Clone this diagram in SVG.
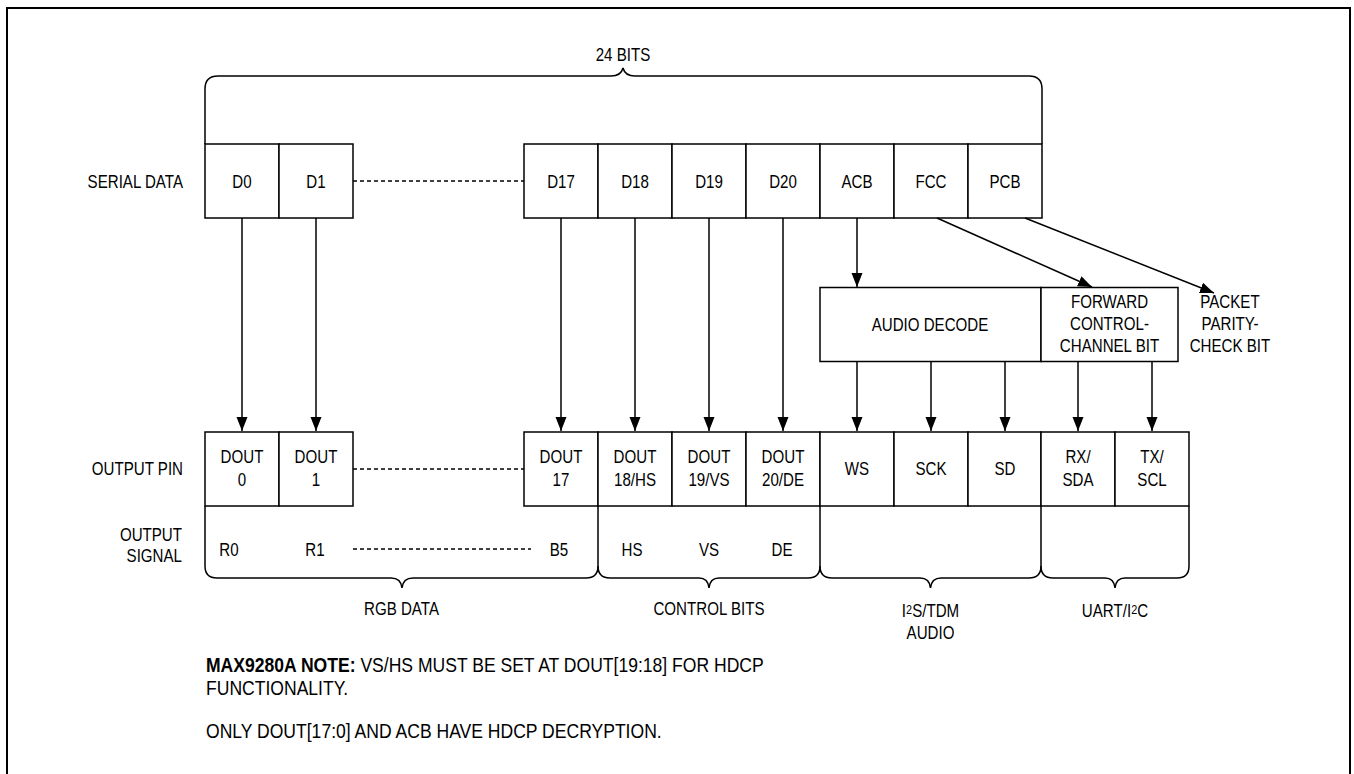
<svg xmlns="http://www.w3.org/2000/svg" width="1354" height="774" viewBox="0 0 1354 774">
<style>
.bx{fill:#fff;stroke:#000;stroke-width:1.5}
.ln{fill:none;stroke:#000;stroke-width:1.5}
.ds{fill:none;stroke:#000;stroke-width:1.5;stroke-dasharray:4 3}
.ar{fill:none;stroke:#000;stroke-width:1.5;marker-end:url(#ah)}
.t{font-family:'Liberation Sans',Arial,sans-serif;font-size:18px;fill:#000;text-anchor:middle}
.r{text-anchor:end}
.l{text-anchor:start}
.n{font-size:19.5px}
.b{font-weight:bold}
</style>
<defs>
<marker id="ah" markerUnits="userSpaceOnUse" markerWidth="15" markerHeight="12" refX="14" refY="5.5" orient="auto">
<path d="M0,0 L14,5.5 L0,11 z" fill="#000"/>
</marker>
</defs>
<rect x="0" y="0" width="1354" height="774" fill="#fff"/>
<path d="M7,774 V8 H1350 V774" fill="none" stroke="#000" stroke-width="2"/>

<g id="brace-top">
<path class="ln" d="M205,144 V89 Q205,76 218,76 H611 Q621,76 623,68 Q625,76 635,76 H1029 Q1042,76 1042,89 V144"/>
<text class="t" transform="translate(623 61) scale(.84 1)">24 BITS</text>
</g>

<g id="row-labels">
<text class="t r" transform="translate(183 188) scale(.84 1)">SERIAL DATA</text>
<text class="t r" transform="translate(183 475) scale(.84 1)">OUTPUT PIN</text>
<text class="t r" transform="translate(182 541) scale(.84 1)">OUTPUT</text>
<text class="t r" transform="translate(182 562) scale(.84 1)">SIGNAL</text>
</g>

<g id="serial-D0"><rect class="bx" x="205" y="144" width="74" height="74"/><text class="t" transform="translate(242 188) scale(.84 1)">D0</text></g>
<g id="serial-D1"><rect class="bx" x="279" y="144" width="74" height="74"/><text class="t" transform="translate(316 188) scale(.84 1)">D1</text></g>
<g id="serial-D17"><rect class="bx" x="524" y="144" width="74" height="74"/><text class="t" transform="translate(561 188) scale(.84 1)">D17</text></g>
<g id="serial-D18"><rect class="bx" x="598" y="144" width="74" height="74"/><text class="t" transform="translate(635 188) scale(.84 1)">D18</text></g>
<g id="serial-D19"><rect class="bx" x="672" y="144" width="74" height="74"/><text class="t" transform="translate(709 188) scale(.84 1)">D19</text></g>
<g id="serial-D20"><rect class="bx" x="746" y="144" width="74" height="74"/><text class="t" transform="translate(783 188) scale(.84 1)">D20</text></g>
<g id="serial-ACB"><rect class="bx" x="820" y="144" width="74" height="74"/><text class="t" transform="translate(857 188) scale(.84 1)">ACB</text></g>
<g id="serial-FCC"><rect class="bx" x="894" y="144" width="74" height="74"/><text class="t" transform="translate(931 188) scale(.84 1)">FCC</text></g>
<g id="serial-PCB"><rect class="bx" x="968" y="144" width="74" height="74"/><text class="t" transform="translate(1005 188) scale(.84 1)">PCB</text></g>

<g id="audio-decode"><rect class="bx" x="820" y="287.5" width="221" height="74"/><text class="t" transform="translate(930 331) scale(.84 1)">AUDIO DECODE</text></g>
<g id="forward-control"><rect class="bx" x="1041" y="287.5" width="137" height="74"/>
<text class="t" transform="translate(1109.5 308) scale(.84 1)">FORWARD</text>
<text class="t" transform="translate(1109.5 330) scale(.84 1)">CONTROL-</text>
<text class="t" transform="translate(1109.5 352) scale(.84 1)">CHANNEL BIT</text></g>
<g id="packet-parity">
<text class="t" transform="translate(1230 308) scale(.84 1)">PACKET</text>
<text class="t" transform="translate(1230 330) scale(.84 1)">PARITY-</text>
<text class="t" transform="translate(1230 352) scale(.84 1)">CHECK BIT</text></g>

<g id="out-DOUT0"><rect class="bx" x="205" y="432" width="74" height="74"/><text class="t" transform="translate(242 463) scale(.84 1)">DOUT</text><text class="t" transform="translate(242 486) scale(.84 1)">0</text></g>
<g id="out-DOUT1"><rect class="bx" x="279" y="432" width="74" height="74"/><text class="t" transform="translate(316 463) scale(.84 1)">DOUT</text><text class="t" transform="translate(316 486) scale(.84 1)">1</text></g>
<g id="out-DOUT17"><rect class="bx" x="524" y="432" width="74" height="74"/><text class="t" transform="translate(561 463) scale(.84 1)">DOUT</text><text class="t" transform="translate(561 486) scale(.84 1)">17</text></g>
<g id="out-DOUT18"><rect class="bx" x="598" y="432" width="74" height="74"/><text class="t" transform="translate(635 463) scale(.84 1)">DOUT</text><text class="t" transform="translate(635 486) scale(.84 1)">18/HS</text></g>
<g id="out-DOUT19"><rect class="bx" x="672" y="432" width="74" height="74"/><text class="t" transform="translate(709 463) scale(.84 1)">DOUT</text><text class="t" transform="translate(709 486) scale(.84 1)">19/VS</text></g>
<g id="out-DOUT20"><rect class="bx" x="746" y="432" width="74" height="74"/><text class="t" transform="translate(783 463) scale(.84 1)">DOUT</text><text class="t" transform="translate(783 486) scale(.84 1)">20/DE</text></g>
<g id="out-WS"><rect class="bx" x="820" y="432" width="74" height="74"/><text class="t" transform="translate(857 475) scale(.84 1)">WS</text></g>
<g id="out-SCK"><rect class="bx" x="894" y="432" width="74" height="74"/><text class="t" transform="translate(931 475) scale(.84 1)">SCK</text></g>
<g id="out-SD"><rect class="bx" x="968" y="432" width="73" height="74"/><text class="t" transform="translate(1005 475) scale(.84 1)">SD</text></g>
<g id="out-RX"><rect class="bx" x="1041" y="432" width="74" height="74"/><text class="t" transform="translate(1078 463) scale(.84 1)">RX/</text><text class="t" transform="translate(1078 486) scale(.84 1)">SDA</text></g>
<g id="out-TX"><rect class="bx" x="1115" y="432" width="74" height="74"/><text class="t" transform="translate(1152 463) scale(.84 1)">TX/</text><text class="t" transform="translate(1152 486) scale(.84 1)">SCL</text></g>

<g id="signals">
<text class="t" transform="translate(229 555.5) scale(.84 1)">R0</text>
<text class="t" transform="translate(315 555.5) scale(.84 1)">R1</text>
<text class="t" transform="translate(559 555.5) scale(.84 1)">B5</text>
<text class="t" transform="translate(632 555.5) scale(.84 1)">HS</text>
<text class="t" transform="translate(709 555.5) scale(.84 1)">VS</text>
<text class="t" transform="translate(782 555.5) scale(.84 1)">DE</text>
</g>

<g id="brace-rgb"><path class="ln" d="M205,506 V566 Q205,578 217,578 H391 Q401,578 402,588 Q403,578 413,578 H586 Q598,578 598,566 V506"/>
<text class="t" transform="translate(401.5 615) scale(.84 1)">RGB DATA</text></g>
<g id="brace-control"><path class="ln" d="M598,566 Q598,578 610,578 H699 Q708,578 709,588 Q710,578 719,578 H808 Q820,578 820,566 V506"/>
<text class="t" transform="translate(709 615) scale(.84 1)">CONTROL BITS</text></g>
<g id="brace-audio"><path class="ln" d="M820,566 Q820,578 832,578 H920 Q929.5,578 930.5,588 Q931.5,578 941,578 H1029 Q1041,578 1041,566 V506"/>
<text class="t" transform="translate(930.5 617) scale(.84 1)">I<tspan font-size="13" dy="-3.5">2</tspan><tspan dy="3.5">S/TDM</tspan></text>
<text class="t" transform="translate(930.5 639) scale(.84 1)">AUDIO</text></g>
<g id="brace-uart"><path class="ln" d="M1041,566 Q1041,578 1053,578 H1105 Q1114,578 1115,588 Q1116,578 1125,578 H1177 Q1189,578 1189,566 V506"/>
<text class="t" transform="translate(1115 617) scale(.84 1)">UART/I<tspan font-size="13" dy="-3.5">2</tspan><tspan dy="3.5">C</tspan></text></g>

<g id="notes">
<text class="t l n" transform="translate(206 672) scale(.9 1)"><tspan class="b">MAX9280A NOTE:</tspan> VS/HS MUST BE SET AT DOUT[19:18] FOR HDCP</text>
<text class="t l n" transform="translate(206 695) scale(.9 1)">FUNCTIONALITY.</text>
<text class="t l n" transform="translate(206 738) scale(.9 1)">ONLY DOUT[17:0] AND ACB HAVE HDCP DECRYPTION.</text>
</g>

<g id="connectors">
<path class="ds" d="M353,181 H524"/>
<path class="ds" d="M353,469 H524"/>
<path class="ds" d="M353,549 H531"/>
<path class="ar" d="M242,218 V431"/>
<path class="ar" d="M316,218 V431"/>
<path class="ar" d="M561,218 V431"/>
<path class="ar" d="M635,218 V431"/>
<path class="ar" d="M709,218 V431"/>
<path class="ar" d="M783,218 V431"/>
<path class="ar" d="M857,218 V287"/>
<path class="ar" d="M937,218 L1092,287"/>
<path class="ar" d="M1025,218 L1214,293"/>
<path class="ar" d="M857,361.5 V431"/>
<path class="ar" d="M931,361.5 V431"/>
<path class="ar" d="M1005,361.5 V431"/>
<path class="ar" d="M1078,361.5 V431"/>
<path class="ar" d="M1152,361.5 V431"/>
</g>
</svg>
